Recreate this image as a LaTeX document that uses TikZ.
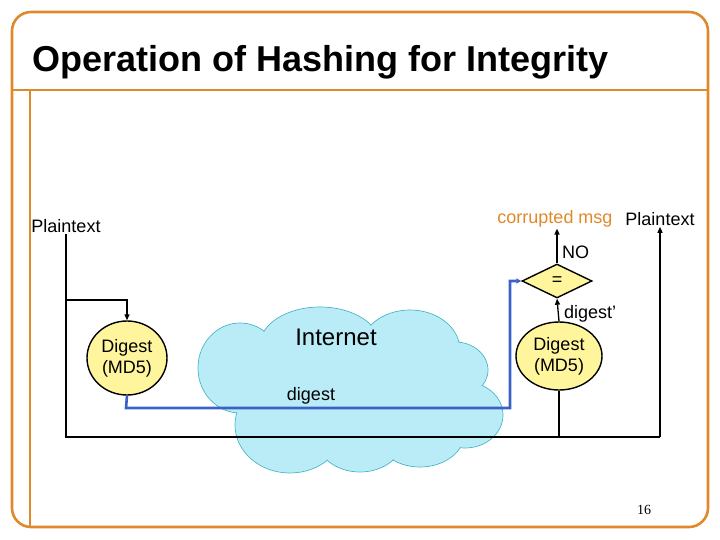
\documentclass[tikz,border=0pt]{standalone}
\usepackage{fontspec}
\setmainfont{Liberation Sans}
\newfontfamily\serifpn{Liberation Serif}
\usetikzlibrary{shapes.geometric,arrows.meta}
\definecolor{frameorange}{HTML}{E0892B}
\definecolor{hashyellow}{HTML}{FFF59D}
\definecolor{cloudfill}{HTML}{B9ECF7}
\definecolor{cloudline}{HTML}{45B5C9}
\definecolor{lineblue}{HTML}{3A62C6}
\tikzset{
  frame/.style={draw=frameorange, line width=2.6pt},
  lbl/.style={font=\fontsize{18}{20}\selectfont, inner sep=1pt},
  hashnode/.style={ellipse, draw=black, line width=1.4pt, fill=hashyellow, inner sep=0pt, align=center, font=\fontsize{18}{21}\selectfont},
  cmp/.style={diamond, draw=black, line width=1.4pt, fill=hashyellow, inner sep=0pt, font=\fontsize{18}{20}\selectfont},
  blk/.style={draw=black, line width=1.3pt},
  arr/.style={-{Triangle[length=6pt,width=5pt]}},
  blu/.style={draw=lineblue, line width=2.6pt},
  lobe/.style={fill=cloudfill, draw=cloudline, line width=0.7pt},
}
\begin{document}
\begin{tikzpicture}[x=1pt,y=-1pt]
\useasboundingbox (0,0) rectangle (720,540);
% frame
\draw[frame, rounded corners=19pt] (12,12) rectangle (708,527);
\draw[frame, line width=2.2pt] (12,90) -- (708,90);
\draw[frame, line width=2.2pt] (30,90) -- (30,527);
\node[anchor=base west, inner sep=0pt, font=\fontsize{36}{40}\selectfont\bfseries] (title) at (32,72) {Operation of Hashing for Integrity};
% cloud
\foreach \cx/\cy/\rx/\ry in {240/368/42/45, 320/345/60/38, 410/350/50/40, 455/370/33/28, 465/415/38/33, 420/432/45/35, 360/435/45/37, 290/425/55/48}
  \path[lobe] (\cx,\cy) ellipse [x radius=\rx, y radius=\ry];
\foreach \cx/\cy/\rx/\ry in {240/368/42/45, 320/345/60/38, 410/350/50/40, 455/370/33/28, 465/415/38/33, 420/432/45/35, 360/435/45/37, 290/425/55/48}
  \path[fill=cloudfill] (\cx,\cy) ellipse [x radius=\rx-0.8, y radius=\ry-0.8];
\path[fill=cloudfill] (350,395) ellipse [x radius=105, y radius=48];
\node[font=\fontsize{24}{26}\selectfont, inner sep=0pt] (inet) at (336,337) {Internet};
% nodes
\node[lbl] (pL) at (66,226) {Plaintext};
\node[hashnode, minimum width=80pt, minimum height=74pt] (d1) at (127,358) {Digest\\(MD5)};
\node[hashnode, minimum width=86pt, minimum height=68pt] (d2) at (559,356) {Digest\\(MD5)};
\node[cmp, minimum width=70pt, minimum height=34pt] (eq) at (557,281) {=};
\node[lbl, text=frameorange] (corr) at (555,219) {corrupted msg};
\node[lbl] (pR) at (660,219) {Plaintext};
\node[lbl, anchor=west] (no) at (561,252) {NO};
\node[lbl, anchor=west] (dp) at (563,314) {digest’};
\node[lbl] (dg) at (311,396) {digest};
\coordinate (bl) at (66,437);
\coordinate (br) at (660,437);
\coordinate (sp) at (66,300);
\coordinate (b1) at (126,408);
\coordinate (b2) at (510,408);
\coordinate (b3) at (510,281);
% black connectors
\draw[blk] (pL.south) -- (bl) -- (br);
\draw[blk, arr] (br) -- (pR.south);
\draw[blk, arr] (sp) -| (d1.north);
\draw[blk] (d2.south) -- (d2.south |- bl);
\draw[blk, arr] (d2.north) -- (eq.south);
\draw[blk, arr] (eq.north) -- (eq.north |- corr.south);
% blue connector
\draw[blu, -{Triangle[length=5pt,width=5pt]}] (d1.south) -- (b1) -- (b2) -- (b3) -- (eq.west);
\node[font=\serifpn\fontsize{14}{16}\selectfont, inner sep=0pt] (pg) at (644,510) {16};
\end{tikzpicture}
\end{document}
